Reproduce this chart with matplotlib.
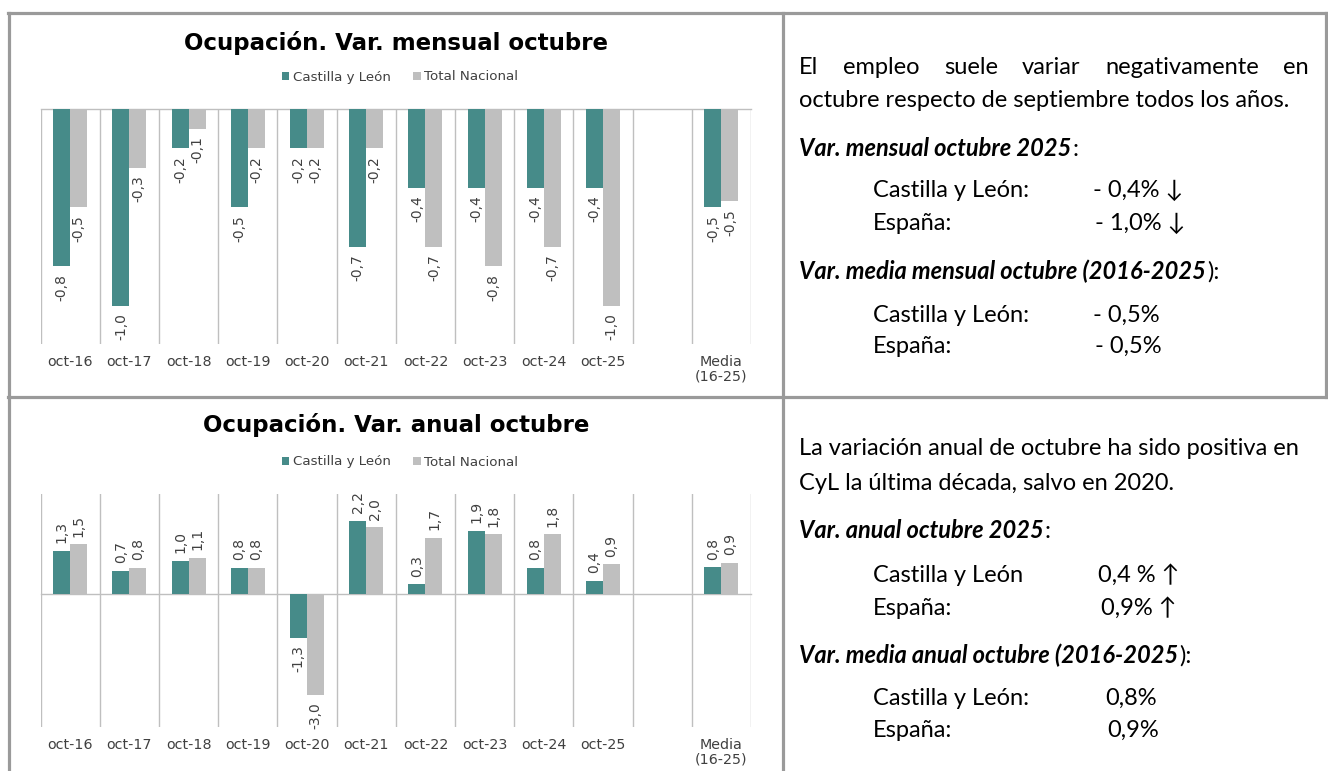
import numpy as np
import matplotlib
matplotlib.use('Agg')
import matplotlib.pyplot as plt
from matplotlib.patches import Patch
from matplotlib.lines import Line2D
import matplotlib.transforms as mtransforms

# ---------------- data ----------------
categories = ['oct-16', 'oct-17', 'oct-18', 'oct-19', 'oct-20', 'oct-21',
              'oct-22', 'oct-23', 'oct-24', 'oct-25', '', 'Media\n(16-25)']
series_names = ['Castilla y León', 'Total Nacional']
mensual_cyl = [-0.8, -1.0, -0.2, -0.5, -0.2, -0.7, -0.4, -0.4, -0.4, -0.4, np.nan, -0.50]
mensual_nac = [-0.5, -0.3, -0.1, -0.2, -0.2, -0.2, -0.7, -0.8, -0.7, -1.0, np.nan, -0.47]
anual_cyl = [1.3, 0.7, 1.0, 0.8, -1.3, 2.2, 0.3, 1.9, 0.8, 0.4, np.nan, 0.81]
anual_nac = [1.5, 0.8, 1.1, 0.8, -3.0, 2.0, 1.7, 1.8, 1.8, 0.9, np.nan, 0.94]
title_mensual = 'Ocupación. Var. mensual octubre'
title_anual = 'Ocupación. Var. anual octubre'

TEAL = '#468B89'
GRAY = '#BFBFBF'
GRID = '#BFBFBF'
BORDER = '#9A9A9A'
TXT = '#404040'

W, H = 1328, 771
fig = plt.figure(figsize=(W / 100, H / 100), dpi=100)
fig.patch.set_facecolor('white')
PX = mtransforms.IdentityTransform()


def box(x0, y0, x1, y1):
    """axes rect from pixel coords (top-left origin)"""
    return [x0 / W, 1 - y1 / H, (x1 - x0) / W, (y1 - y0) / H]


def lab(ax, xi, v):
    if np.isnan(v):
        return
    s = f'{v:.1f}'.replace('.', ',')
    off = 5.5 if v >= 0 else -5.5
    ax.annotate(s, (xi, v), xytext=(0, off), textcoords='offset points',
                rotation=90, ha='center', va='bottom' if v >= 0 else 'top',
                fontsize=10, color=TXT, family='DejaVu Sans')


def chart(rect, cyl, nac, ylim, title, title_y, legend_y):
    ax = fig.add_axes(rect)
    x = np.arange(len(categories))
    bw = 0.287
    ax.bar(x - bw / 2, cyl, bw, color=TEAL, zorder=3, label=series_names[0])
    ax.bar(x + bw / 2, nac, bw, color=GRAY, zorder=3, label=series_names[1])
    for xi, v in zip(x - bw / 2, cyl):
        lab(ax, xi, v)
    for xi, v in zip(x + bw / 2, nac):
        lab(ax, xi, v)
    ax.set_xlim(-0.5, len(categories) - 0.5)
    ax.set_ylim(*ylim)
    for s in ax.spines.values():
        s.set_visible(False)
    ax.set_yticks([])
    ax.set_xticks(x)
    ax.set_xticklabels(categories, fontsize=10.3, color=TXT, family='DejaVu Sans',
                       linespacing=1.05)
    ax.tick_params(axis='x', length=0, pad=8)
    ax.set_xticks(np.arange(-0.5, len(categories)), minor=True)
    ax.tick_params(axis='x', which='minor', length=0)
    ax.grid(which='minor', axis='x', color=GRID, lw=1.0, zorder=0)
    ax.axhline(0, color=GRID, lw=1.0, zorder=1, clip_on=False)
    fig.text(396, H - title_y, title, transform=PX, ha='center', va='center',
             fontsize=16.5, fontweight='bold', color='black', family='DejaVu Sans')
    handles = [Patch(facecolor=TEAL, edgecolor='none'), Patch(facecolor=GRAY, edgecolor='none')]
    fig.legend(handles, series_names, loc='center', ncol=2, frameon=False,
               bbox_to_anchor=(400 / W, 1 - legend_y / H),
               handlelength=0.55, handleheight=0.55, handletextpad=0.25,
               columnspacing=1.7, labelcolor=TXT, prop={'family': 'DejaVu Sans', 'size': 9.6})
    return ax


chart(box(40.7, 109, 751, 344), mensual_cyl, mensual_nac, (-1.195, 0),
      title_mensual, 43, 77)
chart(box(40.7, 494, 751, 727.3), anual_cyl, anual_nac, (-3.97, 3.0),
      title_anual, 425, 462)

# ---------------- borders ----------------
def hline(x0, x1, y):
    fig.add_artist(Line2D([x0 / W, x1 / W], [1 - y / H, 1 - y / H], color=BORDER, lw=2.3,
                          solid_capstyle='projecting'))


def vline(x, y0, y1):
    fig.add_artist(Line2D([x / W, x / W], [1 - y0 / H, 1 - y1 / H], color=BORDER, lw=2.3,
                          solid_capstyle='projecting'))


hline(8, 1326, 12.5)
hline(8, 1326, 397)
vline(8.5, 12.5, 775)
vline(783, 12.5, 775)
vline(1326, 12.5, 397)

# ---------------- right-hand text ----------------
FAM = ['Lato', 'DejaVu Sans']
FS = 17.0
renderer = fig.canvas.get_renderer()


def put(x, y, s, **kw):
    t = fig.text(x, H - y, s, transform=PX, ha='left', va='baseline',
                 fontsize=FS, family=FAM, color='black', **kw)
    return t


def width(t):
    return t.get_window_extent(renderer).width


def justified(words, x0, x1, y):
    ts = [put(0, y, w) for w in words]
    ws = [width(t) for t in ts]
    gap = (x1 - x0 - sum(ws)) / (len(words) - 1)
    x = x0
    for t, w in zip(ts, ws):
        t.set_x(x)
        x += w + gap


def mixed(x, y, bold_part, rest):
    t = put(x, y, bold_part, fontweight='bold', style='italic')
    put(x + width(t) + 1, y, rest)


LX = 799
IX = 873

justified('El empleo suele variar negativamente en'.split(), LX, 1309, 74)
put(LX, 107, 'octubre respecto de septiembre todos los años.')
mixed(LX, 156, 'Var. mensual octubre 2025', ':')
put(IX, 197, 'Castilla y León:')
put(1093, 197, '- 0,4% ↓')
put(IX, 230, 'España:')
put(1095, 230, '- 1,0% ↓')
mixed(LX, 279, 'Var. media mensual octubre (2016-2025', '):')
put(IX, 322, 'Castilla y León:')
put(1093, 322, '- 0,5%')
put(IX, 353, 'España:')
put(1095, 353, '- 0,5%')

put(LX, 455, 'La variación anual de octubre ha sido positiva en')
put(LX, 490, 'CyL la última década, salvo en 2020.')
mixed(LX, 538, 'Var. anual octubre 2025', ':')
put(IX, 582, 'Castilla y León')
put(1098, 582, '0,4 % ↑')
put(IX, 615, 'España:')
put(1101, 615, '0,9% ↑')
mixed(LX, 663, 'Var. media anual octubre (2016-2025', '):')
put(IX, 705, 'Castilla y León:')
put(1105, 705, '0,8%')
put(IX, 737, 'España:')
put(1107, 737, '0,9%')

fig.savefig('out.png', dpi=100, facecolor='white')
